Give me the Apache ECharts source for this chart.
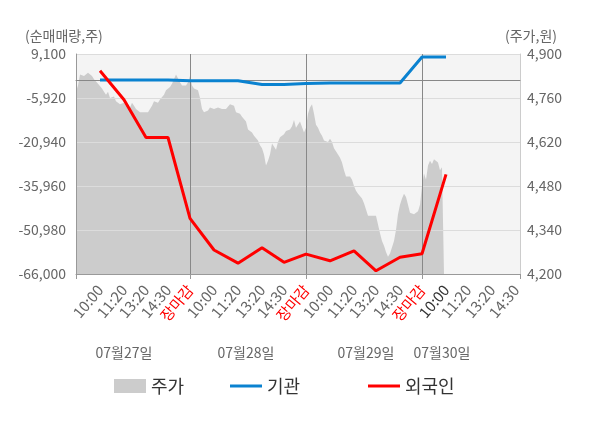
<!DOCTYPE html>
<html>
<head>
<meta charset="utf-8">
<script src="https://cdn.jsdelivr.net/npm/echarts@6/dist/echarts.min.js"></script>
<style>
html,body{margin:0;padding:0;background:#fff;}
#chart{width:600px;height:428px;}
</style>
</head>
<body>
<div id="chart"></div>
<script>
var FONT = 'Noto Sans CJK KR';

// x positions: one category per step, 223 steps over four sessions
var stepCount = 223;

// time tick labels and the step where each one sits
var timeLabels = ['10:00','11:20','13:20','14:30','장마감',
                  '10:00','11:20','13:20','14:30','장마감',
                  '10:00','11:20','13:20','14:30','장마감',
                  '10:00','11:20','13:20','14:30'];
var timeIdx = [12,24,35,46,57, 69,81,93,104,115, 127,139,150,162,173, 185,196,208,220];

// session boundaries (ticks) and close lines
var tickIdx = [0,57,115,173,222];
var closeIdx = [57,115,173];

// date labels under the axis
var dateLabels = ['07월27일','07월28일','07월29일','07월30일'];
var dateIdx = [24,85,145,183];

// 주가 (right axis), one value per step from the first step
var price = [
  4780,4800,4835,4840,4830,4825,4840,4845,4830,4820,
  4815,4805,4810,4790,4780,4770,4780,4760,4755,4765,
  4750,4755,4740,4735,4745,4735,4740,4730,4745,4735,
  4725,4720,4715,4720,4715,4720,4715,4725,4735,4750,
  4755,4745,4755,4750,4770,4785,4790,4795,4805,4810,
  4835,4830,4810,4800,4805,4800,4810,4830,4800,4790,
  4795,4785,4760,4725,4715,4710,4720,4730,4725,4725,
  4725,4730,4725,4725,4725,4725,4725,4740,4745,4735,
  4715,4720,4710,4700,4695,4685,4660,4655,4650,4640,
  4635,4625,4610,4600,4580,4545,4560,4580,4615,4620,
  4595,4620,4635,4640,4645,4655,4660,4660,4670,4690,
  4665,4665,4685,4680,4650,4665,4710,4730,4740,4710,
  4675,4665,4650,4640,4625,4620,4620,4630,4620,4600,
  4595,4580,4570,4555,4530,4510,4505,4510,4500,4480,
  4465,4455,4450,4440,4425,4405,4385,4385,4385,4385,
  4385,4380,4330,4305,4290,4270,4255,4265,4285,4305,
  4340,4390,4420,4440,4455,4445,4420,4395,4390,4390,
  4385,4400,4420,4480,4520,4500,4545,4560,4550,4565,
  4570,4555,4530,4540,4545
];

// 기관 / 외국인 net buying (left axis), at timeIdx[0..15]
var inst = [200,200,200,200,0,0,0,-1300,-1300,-950,-800,-800,-800,-800,8100,8100];
var foreign = [3400,-6500,-19400,-19400,-47000,-57800,-62300,-57000,-62000,-59200,-61500,-58100,-64900,-60300,-59100,-32000];

var cats = [], labelAt = [], dateAt = [];
for (var i = 0; i < stepCount; i++) { cats.push(String(i)); labelAt.push(''); dateAt.push(''); }
timeIdx.forEach(function (k, j) { labelAt[k] = timeLabels[j]; });
dateIdx.forEach(function (k, j) { dateAt[k] = dateLabels[j]; });

function pairs(vals) {
  return vals.map(function (v, j) { return [timeIdx[j], v]; });
}
function comma(v) { return Number(v).toLocaleString('en-US'); }

var legendText = {fontFamily: FONT, fontSize: 18, color: '#333'};

var chart = echarts.init(document.getElementById('chart'));
chart.setOption({
  animation: false,
  textStyle: {fontFamily: FONT},
  title: [
    {text: '(순매매량,주)', left: 20, top: 24,
     textStyle: {fontFamily: FONT, fontSize: 14, fontWeight: 'normal', color: '#666'}},
    {text: '(주가,원)', right: 38, top: 24,
     textStyle: {fontFamily: FONT, fontSize: 14, fontWeight: 'normal', color: '#666'}}
  ],
  legend: [
    {data: [{name: '주가', icon: 'rect'}], left: 114, top: 377, padding: 0,
     itemWidth: 32, itemHeight: 14, textStyle: legendText},
    {data: [{name: '기관', icon: 'rect'}], left: 230, top: 377, padding: 0,
     itemWidth: 32, itemHeight: 3, textStyle: legendText},
    {data: [{name: '외국인', icon: 'rect'}], left: 368, top: 377, padding: 0,
     itemWidth: 32, itemHeight: 3, textStyle: legendText}
  ],
  grid: {left: 76, right: 80, top: 54, bottom: 154, show: true,
         backgroundColor: '#f4f4f4', borderWidth: 0, outerBoundsMode: 'none'},
  xAxis: [
    {type: 'category', data: cats, boundaryGap: false, z: 2,
     axisLine: {onZero: false, lineStyle: {color: '#999'}},
     axisTick: {interval: function (i) { return tickIdx.indexOf(i) >= 0; },
                length: 5, lineStyle: {color: '#999'}},
     axisLabel: {
       interval: function (i) { return labelAt[i] !== ''; },
       formatter: function (v) { return labelAt[+v]; },
       color: function (v) {
         var k = +v;
         if (labelAt[k] === '장마감') return '#ff0000';
         if (k === 185) return '#333';
         return '#666';
       },
       rotate: 50, margin: 13, fontSize: 15, fontFamily: FONT},
     splitLine: {show: true, interval: function (i) { return closeIdx.indexOf(i) >= 0; },
                 lineStyle: {color: '#888'}}},
    {type: 'category', data: cats, boundaryGap: false, z: 2,
     axisLine: {onZero: true, onZeroAxisIndex: 0, lineStyle: {color: '#888'}},
     axisTick: {show: false}, axisLabel: {show: false}, splitLine: {show: false}},
    {type: 'category', data: cats, boundaryGap: false, position: 'bottom', offset: 72,
     axisLine: {show: false}, axisTick: {show: false}, splitLine: {show: false},
     axisLabel: {interval: function (i) { return dateAt[i] !== ''; },
                 formatter: function (v) { return dateAt[+v]; },
                 color: '#666', fontSize: 14, margin: 0, fontFamily: FONT}}
  ],
  yAxis: [
    {type: 'value', position: 'left', min: -66000, max: 9100, interval: 15020, z: 2,
     axisLine: {show: true, lineStyle: {color: '#999'}}, axisTick: {show: false},
     axisLabel: {formatter: comma, color: '#666', fontSize: 14, margin: 10, fontFamily: FONT},
     splitLine: {lineStyle: {color: '#dcdcdc'}}},
    {type: 'value', position: 'right', min: 4200, max: 4900, interval: 140, z: 2,
     axisLine: {show: true, lineStyle: {color: '#ccc'}}, axisTick: {show: false},
     axisLabel: {formatter: comma, color: '#666', fontSize: 14, margin: 7, fontFamily: FONT},
     splitLine: {show: false}}
  ],
  series: [
    {name: '주가', type: 'line', xAxisIndex: 0, yAxisIndex: 1, data: price,
     symbol: 'none', z: 1, silent: true, color: '#cccccc',
     lineStyle: {width: 0}, areaStyle: {color: '#cccccc', opacity: 1}},
    {name: '기관', type: 'line', xAxisIndex: 0, yAxisIndex: 0, data: pairs(inst),
     symbol: 'none', z: 3, color: '#0a82d0', lineStyle: {width: 3}},
    {name: '외국인', type: 'line', xAxisIndex: 0, yAxisIndex: 0, data: pairs(foreign),
     symbol: 'none', z: 3, color: '#ff0000', lineStyle: {width: 3}}
  ]
});
</script>
</body>
</html>
